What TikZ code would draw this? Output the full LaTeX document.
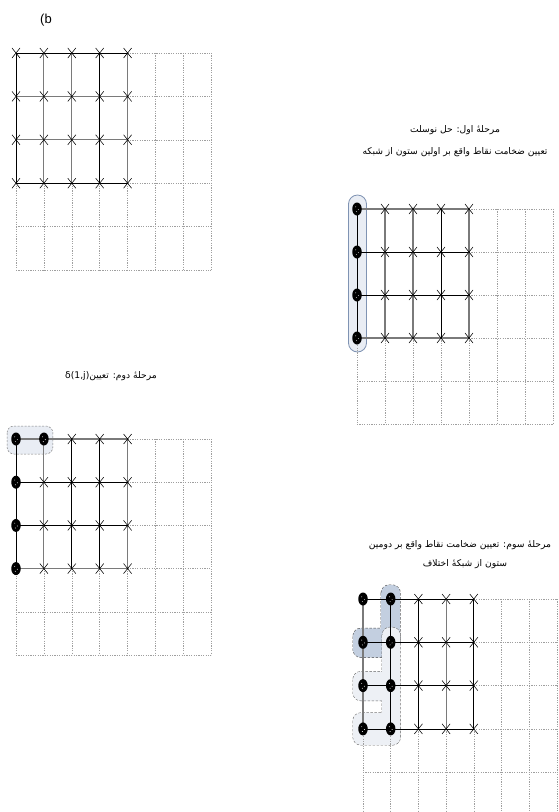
\documentclass[tikz,border=0pt]{standalone}
\usepackage{fontspec}
\newfontfamily\arabicfont[Script=Arabic]{DejaVu Sans}
\newfontfamily\labelfont{Liberation Sans}
\TeXXeTstate=1
\usetikzlibrary{calc,shapes.misc,shapes.geometric}
\definecolor{hlfill}{HTML}{E9EDF4}
\definecolor{hllight}{HTML}{EDF0F5}
\definecolor{hldark}{HTML}{C3CFE0}
\definecolor{hlborder}{HTML}{7F93B3}
\definecolor{gline}{HTML}{7A7A7A}
\tikzset{
  dotline/.style={draw=gray!75, line width=0.45pt, dash pattern=on 1.2pt off 1.2pt},
  blk/.style={draw=black, line width=0.8pt},
  gry/.style={draw=gline, line width=1.1pt},
  xmark/.style={cross out, draw=black, line width=0.55pt, minimum width=7.5pt, minimum height=9.5pt, inner sep=0pt},
  dotmk/.style={ellipse, fill=black, minimum width=9.5pt, minimum height=13pt, inner sep=0pt,
    path picture={\fill[white] ($(path picture bounding box.center)+(-1.3,-2.2)$) circle (0.45pt);
                  \fill[white] ($(path picture bounding box.center)+(1.4,0.6)$) circle (0.45pt);
                  \fill[white] ($(path picture bounding box.center)+(-0.6,2.6)$) circle (0.45pt);}},
  ptext/.style={font=\arabicfont\fontsize{9.2}{11}\selectfont, inner sep=0pt},
}
% define the 8x6 lattice of coordinates of one panel
\newcommand\gridcoords[5]{%
  \foreach \c in {0,...,7}{\foreach \r in {0,...,5}{%
    \coordinate (#1-\c-\r) at ({#2+\c*#4},{#3+\r*#5});}}}
% dotted part of one panel
\newcommand\dottedgrid[1]{%
  \foreach \c in {0,...,4} \draw[dotline] (#1-\c-3) -- (#1-\c-5);
  \foreach \c in {5,6,7} \draw[dotline] (#1-\c-0) -- (#1-\c-5);
  \foreach \r in {0,...,3} \draw[dotline] (#1-4-\r) -- (#1-7-\r);
  \foreach \r in {4,5} \draw[dotline] (#1-0-\r) -- (#1-7-\r);}
% solid part of one panel
\newcommand\solidgrid[3]{%
  \foreach \r/\st in {#2} \draw[\st] (#1-0-\r) -- (#1-4-\r);
  \foreach \c/\st in {#3} \draw[\st] (#1-\c-0) -- (#1-\c-3);}
% markers
\newcommand\panelmarks[2]{%
  \foreach \c in {0,...,4}{\foreach \r in {0,...,3}{%
    \pgfmathtruncatemacro\isdot{#2}%
    \ifnum\isdot=1 \node[dotmk] (#1-m-\c-\r) at (#1-\c-\r) {};%
    \else \node[xmark] (#1-m-\c-\r) at (#1-\c-\r) {};\fi}}}
\begin{document}
\begin{tikzpicture}[x=1pt,y=-1pt]
\useasboundingbox (0,0) rectangle (558,812);
\clip (0,0) rectangle (558,812);
\fill[white] (0,0) rectangle (558,812);

\gridcoords{A}{16}{53}{27.9}{43.4}
\gridcoords{B}{357}{209}{28}{43}
\gridcoords{C}{16}{439}{27.9}{43.2}
\gridcoords{D}{363}{599}{27.7}{43.3}

% label
\node[font=\labelfont\fontsize{13}{15}\selectfont, inner sep=0pt] (lbl) at (46,20) {(b};

% texts
\node[ptext] (t2a) at (455,130) {\beginR مرحلهٔ اول: حل نوسلت\endR};
\node[ptext] (t2b) at (455,152) {\beginR تعیین ضخامت نقاط واقع بر اولین ستون از شبکه\endR};
\node[ptext] (t3) at (111,376) {\beginR مرحلهٔ دوم: تعیین\beginL δ(1,j)\endL\endR};
\node[ptext] (t4a) at (460,545) {\beginR مرحلهٔ سوم: تعیین ضخامت نقاط واقع بر دومین\endR};
\node[ptext] (t4b) at (465,564) {\beginR ستون از شبکهٔ اختلاف\endR};

% highlights
\draw[hlborder, line width=0.8pt, fill=hlfill, rounded corners=9pt]
  ($(B-0-0)+(-8.5,-14)$) rectangle ($(B-0-3)+(9.5,14)$);
\draw[gray, line width=0.5pt, dash pattern=on 2pt off 1.5pt, fill=hlfill, rounded corners=7pt]
  ($(C-0-0)+(-9,-13)$) rectangle ($(C-1-0)+(9,15)$);
% panel D: dark region (union)
\begin{scope}[draw=gray!60!black, line width=1pt, dash pattern=on 2.5pt off 1.5pt]
  \draw[rounded corners=8pt] ($(D-1-0)+(-9.5,-14)$) rectangle ($(D-1-1)+(9.5,8)$);
  \draw[rounded corners=8pt] ($(D-0-1)+(-10,-14)$) rectangle ($(D-1-1)+(0,15)$);
\end{scope}
\fill[hldark, rounded corners=8pt] ($(D-1-0)+(-9.5,-14)$) rectangle ($(D-1-1)+(9.5,8)$);
\fill[hldark, rounded corners=8pt] ($(D-0-1)+(-10,-14)$) rectangle ($(D-1-1)+(0,15)$);
% panel D: light region (union)
\begin{scope}[draw=gray!80!black, line width=1pt, dash pattern=on 2.5pt off 1.5pt]
  \draw[rounded corners=8pt] ($(D-1-1)+(-8.5,-15)$) rectangle ($(D-1-3)+(9.5,16)$);
  \draw[rounded corners=8pt] ($(D-0-2)+(-10,-14)$) rectangle ($(D-1-2)+(0,15)$);
  \draw[rounded corners=8pt] ($(D-0-3)+(-10,-16)$) rectangle ($(D-1-3)+(9.5,16)$);
\end{scope}
\fill[hllight, rounded corners=8pt] ($(D-1-1)+(-8.5,-15)$) rectangle ($(D-1-3)+(9.5,16)$);
\fill[hllight, rounded corners=8pt] ($(D-0-2)+(-10,-14)$) rectangle ($(D-1-2)+(0,15)$);
\fill[hllight, rounded corners=8pt] ($(D-0-3)+(-10,-16)$) rectangle ($(D-1-3)+(9.5,16)$);

% grids
\dottedgrid{A}
\dottedgrid{B}
\dottedgrid{C}
\dottedgrid{D}
\solidgrid{A}{0/blk,1/gry,2/gry,3/blk}{0/blk,1/gry,2/gry,3/blk,4/gry}
\solidgrid{B}{0/gry,1/blk,2/blk,3/gry}{0/blk,1/gry,2/gry,3/blk,4/gry}
\solidgrid{C}{0/gry,1/blk,2/blk,3/gry}{0/blk,1/gry,2/blk,3/blk,4/gry}
\solidgrid{D}{0/blk,1/blk,2/blk,3/blk}{0/gry,1/blk,2/blk,3/gry,4/blk}

% markers
\panelmarks{A}{0}
\panelmarks{B}{\c==0}
\panelmarks{C}{(\c==0)||((\c==1)&&(\r==0))}
\panelmarks{D}{\c<2}
\end{tikzpicture}
\end{document}
